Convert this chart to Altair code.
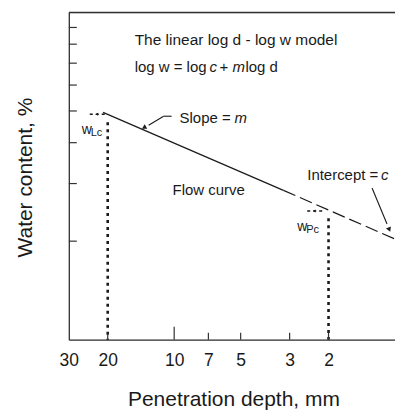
import altair as alt
import pandas as pd

# ---- data ----
x_tick_labels = [30, 20, 10, 7, 5, 3, 2]
flow_depth_solid = [21, 3.2]
flow_w_solid = [49.5, 28.6]
flow_depth_dash = [3.2, 1.0]
flow_w_dash = [28.6, 20.3]
limit_depth = [20, 2]
limit_w_top = [46.2, 23.5]
limit_w_bottom = [10, 10]
x_minor_ticks = [20, 7, 5, 3, 2]
x_major_ticks = [10]
y_ticks = [20, 30, 40, 50, 60, 70, 80, 90]

FONT = "Liberation Sans"
INK = "#1a1a1a"
W, H = 327, 328

xs = alt.Scale(type="log", domain=[1, 30], reverse=True)
ys = alt.Scale(type="log", domain=[10, 100])

solid = pd.DataFrame({"d": flow_depth_solid, "w": flow_w_solid})
dash = pd.DataFrame({"d": flow_depth_dash, "w": flow_w_dash})
limits = pd.DataFrame({"d": limit_depth, "w": limit_w_top, "w0": limit_w_bottom})
one = pd.DataFrame({"a": [0]})

base_x = alt.X("d:Q", scale=xs,
               axis=alt.Axis(values=x_tick_labels, format="~g", ticks=False, tickSize=0,
                             grid=False, labelFontSize=17.5, labelFont=FONT, labelColor=INK,
                             labelPadding=12, labelFlush=False, domainColor="#333",
                             domainWidth=1.3, title="Penetration depth, mm",
                             titleFont=FONT, titleFontSize=21, titleFontWeight="normal",
                             titleColor=INK, titleX=165, titleY=60, titleBaseline="middle"))
base_y = alt.Y("w:Q", scale=ys,
               axis=alt.Axis(labels=False, ticks=False, tickSize=0, grid=False,
                             domainColor="#333", domainWidth=1.3,
                             title="Water content, %", titleFont=FONT, titleFontSize=21,
                             titleFontWeight="normal", titleColor=INK, titleX=-43,
                             titleY=165, titleBaseline="middle", titleAngle=270))

line_solid = alt.Chart(solid).mark_line(color=INK, strokeWidth=1.2).encode(x=base_x, y=base_y)
line_dash = alt.Chart(dash).mark_line(color=INK, strokeWidth=1.2, strokeDash=[13, 5]).encode(
    x=alt.X("d:Q", scale=xs), y=alt.Y("w:Q", scale=ys))
dotted = alt.Chart(limits).mark_rule(color=INK, strokeWidth=2.6, strokeDash=[3, 4]).encode(
    x=alt.X("d:Q", scale=xs), y=alt.Y("w:Q", scale=ys), y2="w0:Q")

xt_minor = alt.Chart(pd.DataFrame({"d": x_minor_ticks})).mark_rule(color="#333", strokeWidth=1.2).encode(
    x=alt.X("d:Q", scale=xs), y=alt.value(H), y2=alt.value(H - 7))
xt_major = alt.Chart(pd.DataFrame({"d": x_major_ticks})).mark_rule(color="#333", strokeWidth=1.2).encode(
    x=alt.X("d:Q", scale=xs), y=alt.value(H), y2=alt.value(H - 13))
yt = alt.Chart(pd.DataFrame({"w": y_ticks})).mark_rule(color="#333", strokeWidth=1.2).encode(
    y=alt.Y("w:Q", scale=ys), x=alt.value(0), x2=alt.value(8))
top = alt.Chart(one).mark_rule(color="#333", strokeWidth=1.3).encode(
    x=alt.value(0), x2=alt.value(W), y=alt.value(0))


def txt(s, x, y, size=15, italic=False, align="left"):
    kw = dict(font=FONT, fontSize=size, color=INK, align=align, baseline="middle")
    if italic:
        kw["fontStyle"] = "italic"
    return alt.Chart(one).mark_text(**kw).encode(x=alt.value(x), y=alt.value(y), text=alt.value(s))


def seg(x1, y1, x2, y2, width=1.1, dashp=None):
    kw = dict(color=INK, strokeWidth=width)
    if dashp:
        kw["strokeDash"] = dashp
    return alt.Chart(one).mark_rule(**kw).encode(
        x=alt.value(x1), y=alt.value(y1), x2=alt.value(x2), y2=alt.value(y2))


def head(x, y, angle, size=30, shape="triangle"):
    return alt.Chart(one).mark_point(shape=shape, filled=True, color=INK, size=size,
                                     angle=angle, opacity=1).encode(x=alt.value(x), y=alt.value(y))


annotations = [
    txt("The linear log d - log w model", 66, 28, size=15.5),
    txt("log w = log", 66, 55),
    txt("c", 141, 55, italic=True),
    txt("+", 151, 55),
    txt("m", 164, 55, italic=True),
    txt("log d", 177, 55),
    txt("Slope =", 111, 106),
    txt("m", 166, 106, italic=True),
    seg(103, 104, 95, 104),
    seg(95, 104, 80, 113),
    head(76, 115, 242, size=28),
    txt("Flow curve", 104, 178),
    txt("Intercept =", 239, 163),
    txt("c", 313, 163, italic=True),
    seg(304, 176, 319, 212),
    head(321, 217, 157, size=28),
    txt("w", 13, 118, size=14),
    txt("Lc", 22, 121, size=11),
    seg(21, 102, 36, 102, width=1.3, dashp=[3, 3]),
    head(28, 102, 0, size=10, shape="triangle-left"),
    txt("w", 229, 215, size=14),
    txt("Pc", 238, 218, size=11),
    seg(239, 199, 254, 199, width=1.3, dashp=[3, 3]),
    head(246, 199, 0, size=10, shape="triangle-left"),
]

chart = alt.layer(line_solid, line_dash, dotted, xt_minor, xt_major, yt, top, *annotations).properties(
    width=W, height=H, autosize="none",
    padding={"left": 69, "top": 12, "right": 0, "bottom": 70}
).configure_view(stroke=None).configure(background="white")

chart.save("out.html", embed_options={"renderer": "svg", "actions": False})
